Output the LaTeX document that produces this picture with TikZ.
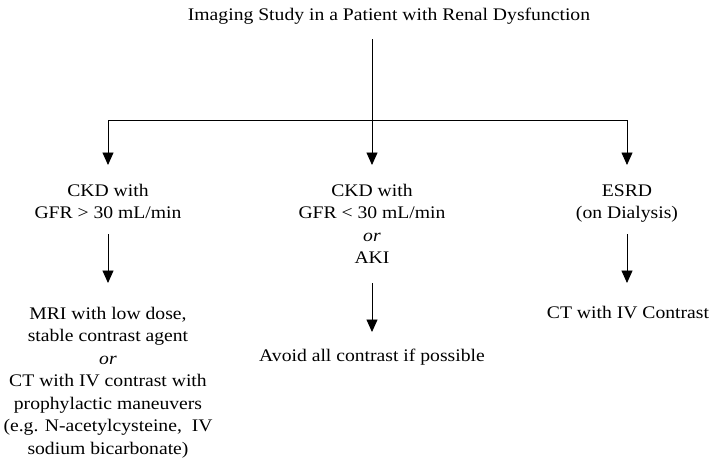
\documentclass[tikz,border=0pt]{standalone}
\usepackage{fontspec}
\setmainfont{Liberation Serif}[FakeStretch=1.11]
\usetikzlibrary{arrows.meta}
\begin{document}
\begin{tikzpicture}[x=1pt,y=1pt,
  txt/.style={anchor=north,inner sep=0pt,align=center,font=\fontsize{17.7}{22.5}\selectfont},
  ln/.style={line width=0.9pt},
  arr/.style={ln,-{Triangle[width=11pt,length=12.5pt]}}]
\useasboundingbox (0,0) rectangle (714,-467);
\node[txt] (title) at (389,-4.25) {\strut Imaging Study in a Patient with Renal Dysfunction\strut};
\coordinate (j) at (372,-120);
\node[txt] (ckd1) at (108,-180.25) {\strut CKD with\\\strut GFR > 30 mL/min\strut};
\node[txt] (ckd2) at (372,-180.25) {\strut CKD with\\\strut GFR < 30 mL/min\\\strut\textit{or}\\\strut AKI\strut};
\node[txt] (esrd) at (627,-180.25) {\strut ESRD\\\strut (on Dialysis)\strut};
\node[txt] (mri) at (108,-303.25) {\strut MRI with low dose,\\\strut stable contrast agent\\\strut\textit{or}\\\strut CT with IV contrast with\\\strut prophylactic maneuvers\\\strut (e.g. N-acetylcysteine,\ \ IV\\\strut sodium bicarbonate)\strut};
\node[txt] (avoid) at (372,-345.25) {\strut Avoid all contrast if possible\strut};
\node[txt] (ct) at (628,-302.25) {\strut CT with IV Contrast\strut};
\draw[ln] (title.south -| j) ++(0,-12.25) -- (j);
\draw[arr] (j) -| ([yshift=15.25pt]ckd1.north);
\draw[arr] (j) -| ([yshift=15.25pt]esrd.north);
\draw[arr] (j) -- ([yshift=15.25pt]ckd2.north);
\draw[arr] ([yshift=-8.75pt]ckd1.south) -- ([yshift=20.25pt]mri.north);
\draw[arr] ([yshift=-12.75pt]ckd2.south) -- ([yshift=13.25pt]avoid.north);
\draw[arr] ([yshift=-8.75pt]esrd.south) -- ([yshift=19.25pt]ct.north -| esrd.south);
\end{tikzpicture}
\end{document}
